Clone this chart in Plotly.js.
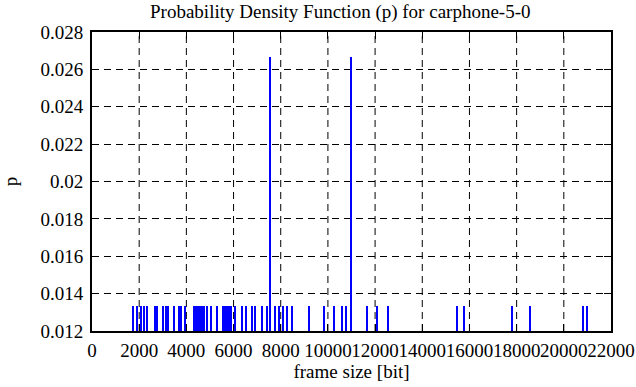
<!DOCTYPE html>
<html>
<head>
<meta charset="utf-8">
<script src="https://cdn.plot.ly/plotly-3.0.1.min.js"></script>
<style>html,body{margin:0;padding:0;background:#fff;}#chart{width:636px;height:387px;}</style>
</head>
<body>
<div id="chart"></div>
<script>
// frame sizes [bit] occurring once (p = 1/75)
const singleSizes = [1755, 1925, 2073, 2221, 2348, 2665, 2750, 3024, 3151, 3236, 3490, 3701, 3786, 3955,
  4315, 4399, 4484, 4568, 4653, 4738, 4865, 5055, 5288, 5541, 5626, 5711, 5796, 5880, 6049, 6345, 6514,
  6768, 6895, 7191, 7402, 7741, 7910, 8079, 8249, 8460, 9179, 9814, 10237, 10618, 10787,
  11675, 12098, 12563, 15482, 15757, 17808, 18570, 20812, 20981];
// frame sizes [bit] occurring twice (p = 2/75)
const doubleSizes = [7529, 10998];
const pSingle = 1/75;
const pDouble = 2/75;

const xTicks = [0,2000,4000,6000,8000,10000,12000,14000,16000,18000,20000,22000];
const yTicks = [0.012,0.014,0.016,0.018,0.02,0.022,0.024,0.026,0.028];
const yTickText = ["0.012","0.014","0.016","0.018","0.02","0.022","0.024","0.026","0.028"];

const xs = singleSizes.concat(doubleSizes);
const ys = singleSizes.map(()=>pSingle).concat(doubleSizes.map(()=>pDouble));

const font = {family: "Liberation Serif, Times New Roman, serif", size: 19, color: "#000"};

const trace = {
  type: "bar", x: xs, y: ys, width: 85,
  marker: {color: "#0000ff", line: {width: 0}},
  hoverinfo: "skip"
};

const axisCommon = {
  showline: true, linecolor: "#000", linewidth: 2, mirror: "allticks",
  ticks: "inside", ticklen: 7, tickwidth: 1, tickcolor: "#000",
  gridcolor: "#000", gridwidth: 1, griddash: "7px,5px",
  zeroline: false, tickfont: font, tickangle: 0
};

// vertical grid lines drawn above the impulses (as gnuplot does)
const gridShapes = xTicks.slice(1, -1).map(v => ({
  type: "line", xref: "x", yref: "paper", x0: v, x1: v, y0: 0, y1: 1, layer: "above",
  line: {color: "#000", width: 1, dash: "7px,5px"}
}));

const layout = {
  width: 636, height: 387,
  margin: {l: 92, r: 25, t: 32, b: 56},
  paper_bgcolor: "#fff", plot_bgcolor: "#fff",
  showlegend: false, bargap: 0,
  font: font,
  shapes: gridShapes,
  title: {text: "Probability Density Function (p) for carphone-5-0", font: font, x: 0.535, xanchor: "center", y: 0.988, yanchor: "top"},
  xaxis: Object.assign({}, axisCommon, {
    showgrid: false,
    range: [0, 22000], tickmode: "array", tickvals: xTicks, ticktext: xTicks.map(String),
    ticklabelstandoff: 1,
    title: {text: "frame size [bit]", font: font, standoff: 4}
  }),
  yaxis: Object.assign({}, axisCommon, {
    showgrid: true,
    range: [0.012, 0.028], tickmode: "array", tickvals: yTicks, ticktext: yTickText,
    ticklabelstandoff: 3,
    title: {text: "p", font: font, standoff: 19}
  })
};

Plotly.newPlot("chart", [trace], layout, {staticPlot: true, displayModeBar: false});
</script>
</body>
</html>
